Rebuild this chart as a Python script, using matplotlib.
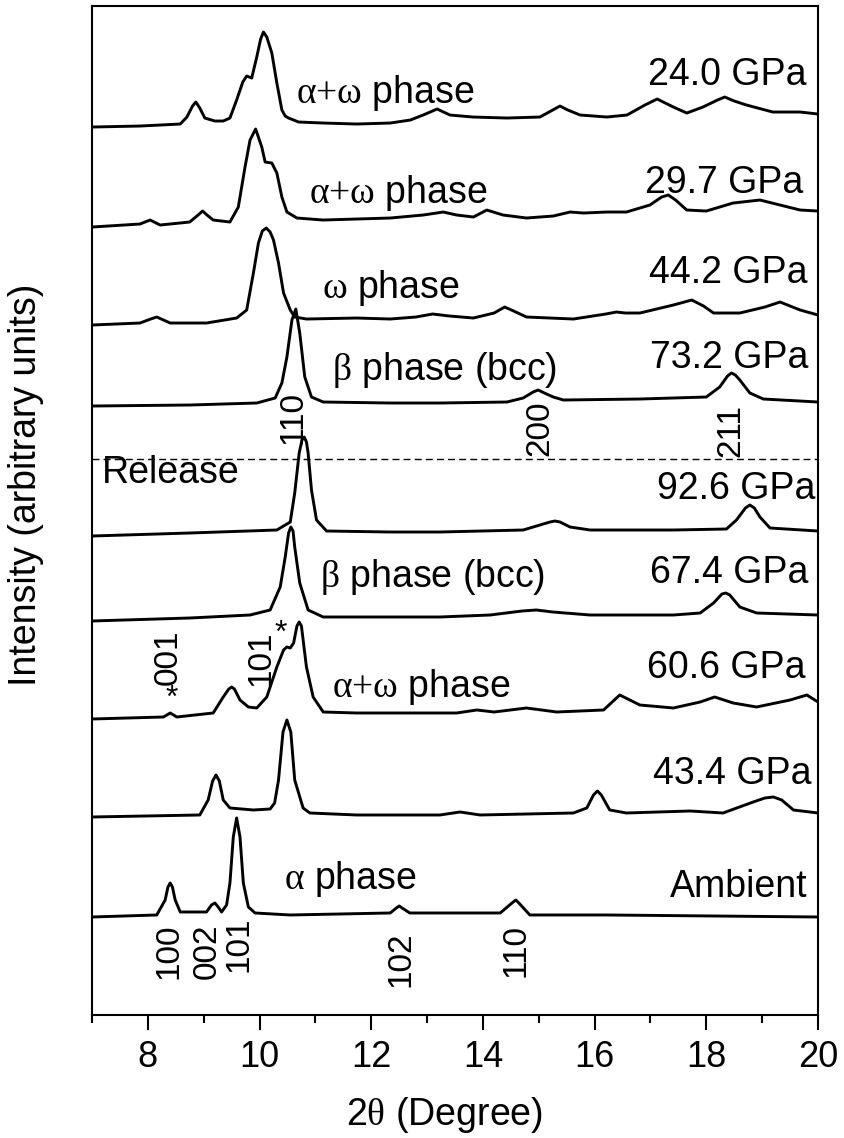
import matplotlib
matplotlib.use('Agg')
import matplotlib.pyplot as plt

plt.rcParams['font.family'] = ['Liberation Sans', 'DejaVu Sans']
plt.rcParams['mathtext.fontset'] = 'custom'
plt.rcParams['mathtext.rm'] = 'Liberation Serif'

# 2theta (deg) and intensity (arb. units, above each trace's own baseline)
x_240 = [7.0, 7.86, 8.58, 8.70, 8.80, 8.86, 8.93, 9.02, 9.20, 9.35, 9.47, 9.59, 9.70, 9.77, 9.86,
         9.95, 10.02, 10.07, 10.13, 10.22, 10.31, 10.40, 10.46, 10.52, 10.70, 11.14, 11.74, 12.34,
         12.70, 12.93, 13.18, 13.41, 13.82, 14.43, 15.02, 15.25, 15.38, 15.52, 15.74, 16.22, 16.58,
         16.90, 17.12, 17.41, 17.65, 17.94, 18.20, 18.33, 18.50, 18.72, 19.19, 19.68, 20.0]
y_240 = [0, 1, 3, 10, 21, 25, 19, 9, 6, 6, 9, 27, 45, 51, 49,
         70, 88, 95, 90, 74, 44, 17, 11, 9, 5, 4, 3, 4,
         7, 12, 18, 12, 10, 9, 10, 17, 21, 17, 12, 10, 12,
         22, 28, 20, 14, 20, 27, 30, 26, 22, 15, 15, 13]

x_297 = [7.0, 7.86, 8.04, 8.22, 8.75, 8.90, 8.98, 9.06, 9.17, 9.47, 9.62, 9.74, 9.83, 9.93, 10.04,
         10.10, 10.22, 10.31, 10.40, 10.49, 10.67, 11.14, 11.74, 12.34, 12.93, 13.29, 13.53, 13.83,
         14.07, 14.36, 14.78, 15.26, 15.56, 15.80, 16.22, 16.57, 16.99, 17.20, 17.32, 17.45, 17.65,
         18.00, 18.48, 18.96, 19.32, 19.68, 20.0]
y_297 = [0, 3, 7, 2, 5, 12, 16, 12, 7, 5, 20, 60, 87, 98, 80,
         65, 64, 54, 30, 15, 9, 7, 8, 9, 12, 15, 12, 10,
         17, 12, 9, 11, 15, 14, 15, 15, 22, 30, 32, 27, 17,
         16, 24, 27, 22, 17, 16]

x_442 = [7.0, 7.86, 8.05, 8.16, 8.28, 8.40, 9.05, 9.59, 9.77, 9.89, 9.98, 10.05, 10.12, 10.19, 10.25,
         10.34, 10.43, 10.55, 10.63, 10.84, 11.74, 12.34, 12.80, 13.10, 13.40, 13.83, 14.20, 14.39,
         14.55, 14.78, 15.62, 16.20, 16.39, 16.55, 16.81, 17.41, 17.74, 17.95, 18.13, 18.60, 19.05,
         19.32, 19.68, 20.0]
y_442 = [0, 2, 6, 8, 5, 2, 2, 7, 15, 52, 82, 94, 97, 93, 85,
         62, 32, 15, 8, 6, 7, 6, 8, 11, 9, 7, 12, 18,
         14, 8, 6, 11, 13, 12, 12, 20, 25, 19, 12, 12, 18,
         23, 15, 10]

x_732 = [7.0, 8.75, 9.95, 10.28, 10.40, 10.49, 10.58, 10.65, 10.72, 10.81, 10.93, 11.14, 12.34,
         13.23, 14.43, 14.72, 14.90, 14.99, 15.10, 15.26, 15.44, 16.81, 18.00, 18.24, 18.38, 18.45,
         18.52, 18.60, 18.78, 19.02, 20.0]
y_732 = [0, 1, 3, 8, 23, 49, 86, 97, 73, 29, 9, 4, 3,
         3, 4, 8, 14, 16, 13, 9, 6, 7, 9, 19, 30, 33,
         31, 26, 13, 7, 4]

x_926 = [7.0, 8.75, 10.31, 10.55, 10.63, 10.71, 10.76, 10.80, 10.84, 10.87, 10.93, 11.02, 11.20,
         12.34, 13.23, 14.72, 15.02, 15.20, 15.29, 15.38, 15.56, 15.92, 17.41, 18.36, 18.54, 18.70,
         18.78, 18.86, 18.96, 19.14, 20.0]
y_926 = [0, 3, 6, 14, 43, 83, 96, 99, 94, 83, 46, 16, 5,
         4, 4, 6, 11, 14, 15, 14, 9, 6, 6, 7, 16, 28,
         31, 28, 19, 8, 5]

x_674 = [7.0, 8.75, 9.83, 10.19, 10.37, 10.46, 10.52, 10.56, 10.60, 10.63, 10.72, 10.87, 11.14,
         13.23, 14.13, 14.70, 14.96, 15.25, 15.92, 17.41, 17.89, 18.13, 18.28, 18.35, 18.42, 18.60,
         18.90, 20.0]
y_674 = [0, 3, 6, 11, 34, 64, 88, 94, 90, 74, 38, 11, 4,
         4, 6, 10, 11, 9, 6, 6, 8, 18, 27, 28, 26, 14,
         8, 6]

x_606 = [7.0, 8.28, 8.40, 8.52, 9.17, 9.35, 9.45, 9.50, 9.55, 9.65, 9.80, 9.95, 10.13, 10.22,
         10.31, 10.43, 10.49, 10.55, 10.61, 10.67, 10.71, 10.75, 10.84, 10.96, 11.14, 11.74, 13.53,
         13.89, 14.20, 14.78, 15.32, 16.16, 16.45, 16.81, 17.41, 17.89, 18.15, 18.48, 18.90, 19.50,
         19.80, 20.0]
y_606 = [1, 3, 7, 3, 7, 23, 31, 33, 31, 20, 13, 12, 23, 38,
         53, 70, 73, 72, 77, 94, 98, 94, 53, 23, 8, 7, 7,
         10, 8, 12, 8, 10, 25, 15, 12, 18, 23, 17, 13, 20,
         25, 18]

x_434 = [7.0, 8.93, 9.08, 9.16, 9.22, 9.28, 9.35, 9.47, 9.89, 10.19, 10.27, 10.34, 10.42, 10.49,
         10.56, 10.63, 10.78, 10.90, 11.74, 13.23, 13.59, 13.95, 15.62, 15.86, 15.98, 16.05, 16.12,
         16.27, 16.57, 17.71, 18.30, 18.84, 19.05, 19.20, 19.35, 19.56, 20.0]
y_434 = [0, 2, 17, 36, 42, 36, 17, 9, 7, 8, 14, 37, 85, 97,
         85, 37, 9, 4, 2, 2, 5, 2, 4, 9, 22, 26, 22,
         7, 4, 6, 4, 15, 19, 20, 17, 7, 4]

x_amb = [7.0, 8.16, 8.31, 8.36, 8.40, 8.44, 8.49, 8.58, 9.05, 9.14, 9.20, 9.26, 9.32, 9.41, 9.47,
         9.53, 9.59, 9.65, 9.71, 9.80, 9.92, 10.55, 12.34, 12.45, 12.50, 12.58, 12.69, 14.31, 14.52,
         14.59, 14.66, 14.84, 16.22, 20.0]
y_amb = [0, 2, 17, 30, 34, 30, 17, 5, 5, 12, 14, 10, 5, 12, 34,
         80, 99, 80, 34, 10, 4, 2, 4, 9, 11, 8, 4, 4, 14,
         17, 13, 2, 2, 0]

xs = [x_240, x_297, x_442, x_732, x_926, x_674, x_606, x_434, x_amb]
ys = [y_240, y_297, y_442, y_732, y_926, y_674, y_606, y_434, y_amb]
offsets = [888, 788, 690, 609, 479, 394, 295, 198, 98]
pressures = ['24.0 GPa', '29.7 GPa', '44.2 GPa', '73.2 GPa', '92.6 GPa',
             '67.4 GPa', '60.6 GPa', '43.4 GPa', 'Ambient']
# label positions: (right edge 2theta, baseline)
p_pos = [(19.80, 930), (19.73, 822), (19.82, 732), (19.82, 647), (19.95, 516),
         (19.82, 432), (19.77, 337), (19.89, 231), (19.82, 118)]

aw = r'$\mathrm{\alpha{+}\omega}$ phase'
phases = [aw, aw, r'$\mathrm{\omega}$ phase', r'$\mathrm{\beta}$ phase (bcc)',
          r'$\mathrm{\beta}$ phase (bcc)', aw, r'$\mathrm{\alpha}$ phase']
ph_pos = [(12.25, 912), (12.49, 812), (12.35, 717), (13.32, 635),
          (13.10, 428), (12.89, 318), (11.62, 126)]

hkl = ['110', '200', '211', '001', '101', '100', '002', '101', '102', '110']
hkl_pos = [(10.60, 598), (15.02, 587), (18.44, 585), (8.36, 358), (10.02, 357),
           (8.38, 64), (9.07, 64), (9.64, 71), (12.53, 56), (14.59, 64)]
stars = [(8.42, 316), (10.38, 381)]

fig = plt.figure(figsize=(8.44, 11.38), dpi=100)
ax = fig.add_axes([0.1090, 0.1081, 0.8602, 0.8866])

for x, y, off in zip(xs, ys, offsets):
    ax.plot(x, [v + off for v in y], color='black', lw=2.1, solid_joinstyle='round')

ax.axhline(556, color='black', lw=1.0, linestyle=(0, (5, 3)))
ax.text(7.18, 532, 'Release', fontsize=27, ha='left', va='baseline')

for s, (px, py) in zip(pressures, p_pos):
    ax.text(px, py, s, fontsize=27, ha='right', va='baseline')
for s, (px, py) in zip(phases, ph_pos):
    ax.text(px, py, s, fontsize=27, ha='center', va='baseline')
for s, (px, py) in zip(hkl, hkl_pos):
    ax.text(px, py, s, fontsize=24, ha='center', va='center', rotation=90)
for px, py in stars:
    ax.text(px, py, '*', fontsize=23, ha='center', va='center')

ax.set_xlim(7, 20)
ax.set_ylim(0, 1009)
ax.set_xticks([8, 10, 12, 14, 16, 18, 20])
ax.set_xticks([7, 9, 11, 13, 15, 17, 19], minor=True)
ax.set_yticks([])
ax.tick_params(axis='x', which='major', direction='out', length=11, width=1.5,
               labelsize=26, pad=7)
ax.tick_params(axis='x', which='minor', direction='out', length=5.5, width=1.5)
for sp in ax.spines.values():
    sp.set_linewidth(1.5)

ax.set_xlabel(r'2$\mathrm{\theta}$ (Degree)', fontsize=27, va='top')
ax.xaxis.set_label_coords(0.485, -0.079)
ax.set_ylabel('Intensity (arbitrary units)', fontsize=27)
ax.yaxis.set_label_coords(-0.066, 0.525)

fig.savefig('out.png', dpi=100)
